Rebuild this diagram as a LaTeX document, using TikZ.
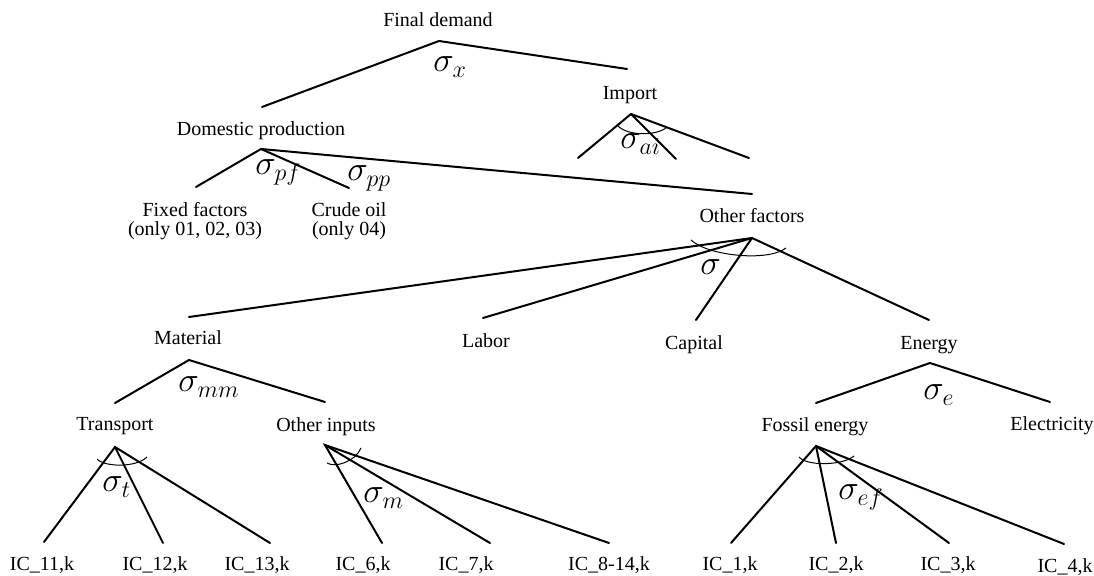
\documentclass[tikz,border=0pt]{standalone}
\usepackage{fontspec}
\setmainfont{Liberation Serif}
\begin{document}
\begin{tikzpicture}[x=0.5pt,y=-0.5pt,
  lbl/.style={font=\fontsize{10}{9.8}\selectfont, inner sep=0pt, anchor=base, align=center},
  sig/.style={font=\LARGE, inner sep=0pt, anchor=base west},
  edge/.style={line width=1pt, line cap=round, line join=miter},
  arcline/.style={line width=0.5pt}]
\useasboundingbox (0,0) rectangle (1094,576);

% labels
\node[lbl] (fd) at (438,27) {Final demand};
\node[lbl] (dp) at (261,136) {Domestic production};
\node[lbl] (imp) at (630,100) {Import};
\node[lbl] (ff) at (195,236) {Fixed factors\\(only 01, 02, 03)};
\node[lbl] (co) at (349,236) {Crude oil\\(only 04)};
\node[lbl] (of) at (752,223) {Other factors};
\node[lbl] (mat) at (188,345) {Material};
\node[lbl] (lab) at (486,348) {Labor};
\node[lbl] (cap) at (694,350) {Capital};
\node[lbl] (en) at (929,350) {Energy};
\node[lbl] (tr) at (115,431) {Transport};
\node[lbl] (oi) at (326,432) {Other inputs};
\node[lbl] (fe) at (815,432) {Fossil energy};
\node[lbl] (el) at (1052,431) {Electricity};
\node[lbl] (ic11) at (42,571) {IC\_11,k};
\node[lbl] (ic12) at (155,571) {IC\_12,k};
\node[lbl] (ic13) at (257,571) {IC\_13,k};
\node[lbl] (ic6) at (363,571) {IC\_6,k};
\node[lbl] (ic7) at (466,571) {IC\_7,k};
\node[lbl] (ic814) at (609,571) {IC\_8-14,k};
\node[lbl] (ic1) at (730,571) {IC\_1,k};
\node[lbl] (ic2) at (836,571) {IC\_2,k};
\node[lbl] (ic3) at (948,571) {IC\_3,k};
\node[lbl] (ic4) at (1065,573) {IC\_4,k};

% sigma labels
\node[sig] (sx) at (433,72) {$\sigma_x$};
\node[sig] (sai) at (620,149) {$\sigma_{ai}$};
\node[sig] (spf) at (255,175) {$\sigma_{pf}$};
\node[sig] (spp) at (347,181) {$\sigma_{pp}$};
\node[sig] (s) at (700,275) {$\sigma$};
\node[sig] (smm) at (178,392) {$\sigma_{mm}$};
\node[sig] (st) at (102,492) {$\sigma_t$};
\node[sig] (sm) at (363,503) {$\sigma_m$};
\node[sig] (se) at (923,400) {$\sigma_e$};
\node[sig] (sef) at (838,500) {$\sigma_{ef}$};

% connector points
\coordinate (fdA) at (439,41);   \coordinate (dpT) at (262,107);  \coordinate (impT) at (627,69);
\coordinate (impA) at (631,114); \coordinate (imp1) at (578,158); \coordinate (imp2) at (676,159); \coordinate (imp3) at (749,158);
\coordinate (dpA) at (261,149);  \coordinate (ffT) at (196,187);  \coordinate (coT) at (349,188); \coordinate (ofT) at (752,194);
\coordinate (ofA) at (752,238);  \coordinate (matT) at (189,317); \coordinate (labT) at (483,318);
\coordinate (capT) at (696,320); \coordinate (enT) at (929,320);
\coordinate (matA) at (189,360); \coordinate (trT) at (115,403);  \coordinate (oiT) at (325,402);
\coordinate (enA) at (930,363);  \coordinate (feT) at (816,403);  \coordinate (elT) at (1050,402);
\coordinate (trA) at (115,447);  \coordinate (ic11T) at (44,542); \coordinate (ic12T) at (163,543); \coordinate (ic13T) at (270,543);
\coordinate (oiA) at (325,445);  \coordinate (ic6T) at (382,543); \coordinate (ic7T) at (490,543); \coordinate (ic814T) at (609,543);
\coordinate (feA) at (816,446);  \coordinate (ic1T) at (731,543); \coordinate (ic2T) at (836,543); \coordinate (ic3T) at (949,543); \coordinate (ic4T) at (1064,544);

% edges
\draw[edge] (dpT) -- (fdA) -- (impT);
\draw[edge] (imp1) -- (impA) -- (imp3);
\draw[edge] (impA) -- (imp2);
\draw[edge] (ffT) -- (dpA) -- (ofT);
\draw[edge] (dpA) -- (coT);
\draw[edge] (matT) -- (ofA) -- (enT);
\draw[edge] (ofA) -- (labT);
\draw[edge] (ofA) -- (capT);
\draw[edge] (trT) -- (matA) -- (oiT);
\draw[edge] (feT) -- (enA) -- (elT);
\draw[edge] (ic11T) -- (trA) -- (ic13T);
\draw[edge] (trA) -- (ic12T);
\draw[edge] (ic6T) -- (oiA) -- (ic814T);
\draw[edge] (oiA) -- (ic7T);
\draw[edge] (ic1T) -- (feA) -- (ic4T);
\draw[edge] (feA) -- (ic2T);
\draw[edge] (feA) -- (ic3T);

% elasticity arcs
\coordinate (impL) at (618,126); \coordinate (impR) at (666,128);
\draw[arcline] (impL) .. controls (628,136) and (655,136) .. (impR);
\coordinate (ofL) at (691,240); \coordinate (ofR) at (786,248);
\draw[arcline] (ofL) .. controls (708,256) and (768,262) .. (ofR);
\coordinate (trL) at (97,459); \coordinate (trR) at (147,457);
\draw[arcline] (trL) .. controls (104,467) and (136,468) .. (trR);
\coordinate (oiL) at (327,463); \coordinate (oiR) at (361,448);
\draw[arcline] (oiL) .. controls (335,468) and (355,462) .. (oiR);
\coordinate (feL) at (799,457); \coordinate (feR) at (854,456);
\draw[arcline] (feL) .. controls (806,466) and (842,466) .. (feR);
\end{tikzpicture}
\end{document}
